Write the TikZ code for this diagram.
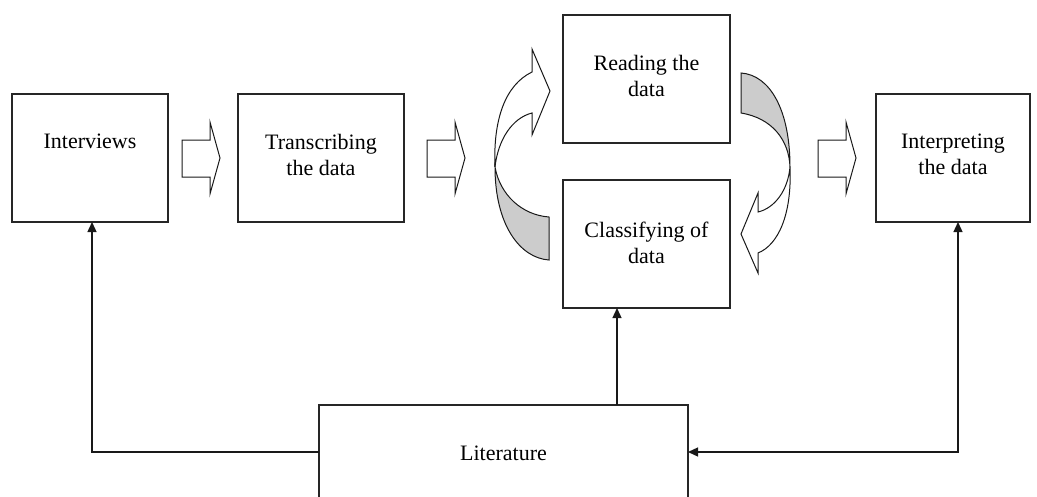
\documentclass[tikz,border=0pt]{standalone}
\usepackage{fontspec}
\setmainfont{Liberation Serif}
\usetikzlibrary{arrows.meta,calc}
\begin{document}
\begin{tikzpicture}[x=1pt,y=-1pt,
  box/.style={draw=black!85, line width=1.3pt, fill=white, inner sep=0pt, outer sep=0pt, minimum height=128pt},
  lbl/.style={anchor=north, inner sep=0pt, align=center, font=\fontsize{22}{26}\selectfont},
  conn/.style={line width=1.3pt, draw=black!90, -{Triangle[length=10pt,width=9pt]}},
  conn2/.style={line width=1.3pt, draw=black!90, {Triangle[length=10pt,width=9pt]}-{Triangle[length=10pt,width=9pt]}},
  shapeline/.style={draw=black!90, line width=1pt, line join=miter},
  blockarrow/.pic={\draw[shapeline, fill=white] (0,140) -- (28,140) -- (28,122) -- (38,158) -- (28,194) -- (28,177) -- (0,177) -- cycle;}
]
\useasboundingbox (0,0) rectangle (1037,496);

% boxes
\node[box, minimum width=156pt] (int) at (90,158) {};
\node[box, minimum width=166pt] (trn) at (321,158) {};
\node[box, minimum width=167pt] (rd) at (646.5,79) {};
\node[box, minimum width=167pt] (cls) at (646.5,244) {};
\node[box, minimum width=154pt] (itp) at (953,158) {};
\node[box, minimum width=369pt, minimum height=94pt] (lit) at (503.5,452) {};

% labels
\node[lbl] (intT) at ($(int.north)+(0,40)$) {Interviews};
\node[lbl] (trnT) at ($(trn.north)+(0,40)$) {Transcribing\\the data};
\node[lbl] (rdT) at ($(rd.north)+(0,40)$) {Reading the\\data};
\node[lbl] (clsT) at ($(cls.north)+(0,42)$) {Classifying of\\data};
\node[lbl] (itpT) at ($(itp.north)+(0,40)$) {Interpreting\\the data};
\node[lbl, anchor=center] (litT) at ($(lit.center)+(0,1)$) {Literature};

% block arrows
\pic (ba1) at (182,0) {blockarrow};
\pic (ba2) at (427,0) {blockarrow};
\pic (ba3) at (818,0) {blockarrow};

% left curved arrow
\filldraw[shapeline, fill=white] (532,72) -- (532,49) -- (550,91) -- (532,135) -- (532,113)
  .. controls (512,118) and (498,140) .. (495,167)
  .. controls (493,120) and (505,85) .. (532,72) -- cycle;
\filldraw[shapeline, fill=gray!40] (495,167) .. controls (495,225) and (520,258) .. (549,260)
  -- (549,217) .. controls (522,215) and (500,195) .. (495,167) -- cycle;

% right curved arrow
\filldraw[shapeline, fill=gray!40] (790,167) .. controls (790,110) and (770,75) .. (741,73)
  -- (741,113) .. controls (772,118) and (789,140) .. (790,167) -- cycle;
\filldraw[shapeline, fill=white] (790,167) .. controls (792,215) and (778,245) .. (758,253)
  -- (758,273) -- (741,234) -- (758,193) -- (758,212)
  .. controls (775,208) and (788,190) .. (790,167) -- cycle;

% connectors
\coordinate (litup) at (617,405);
\coordinate (itpin) at ($(itp.south)+(5,0)$);
\coordinate (intin) at ($(int.south)+(2,0)$);
\draw[conn] (lit.west) -| (intin);
\draw[conn] (litup) -- (litup |- cls.south);
\draw[conn2] (lit.east) -| (itpin);
\end{tikzpicture}
\end{document}
